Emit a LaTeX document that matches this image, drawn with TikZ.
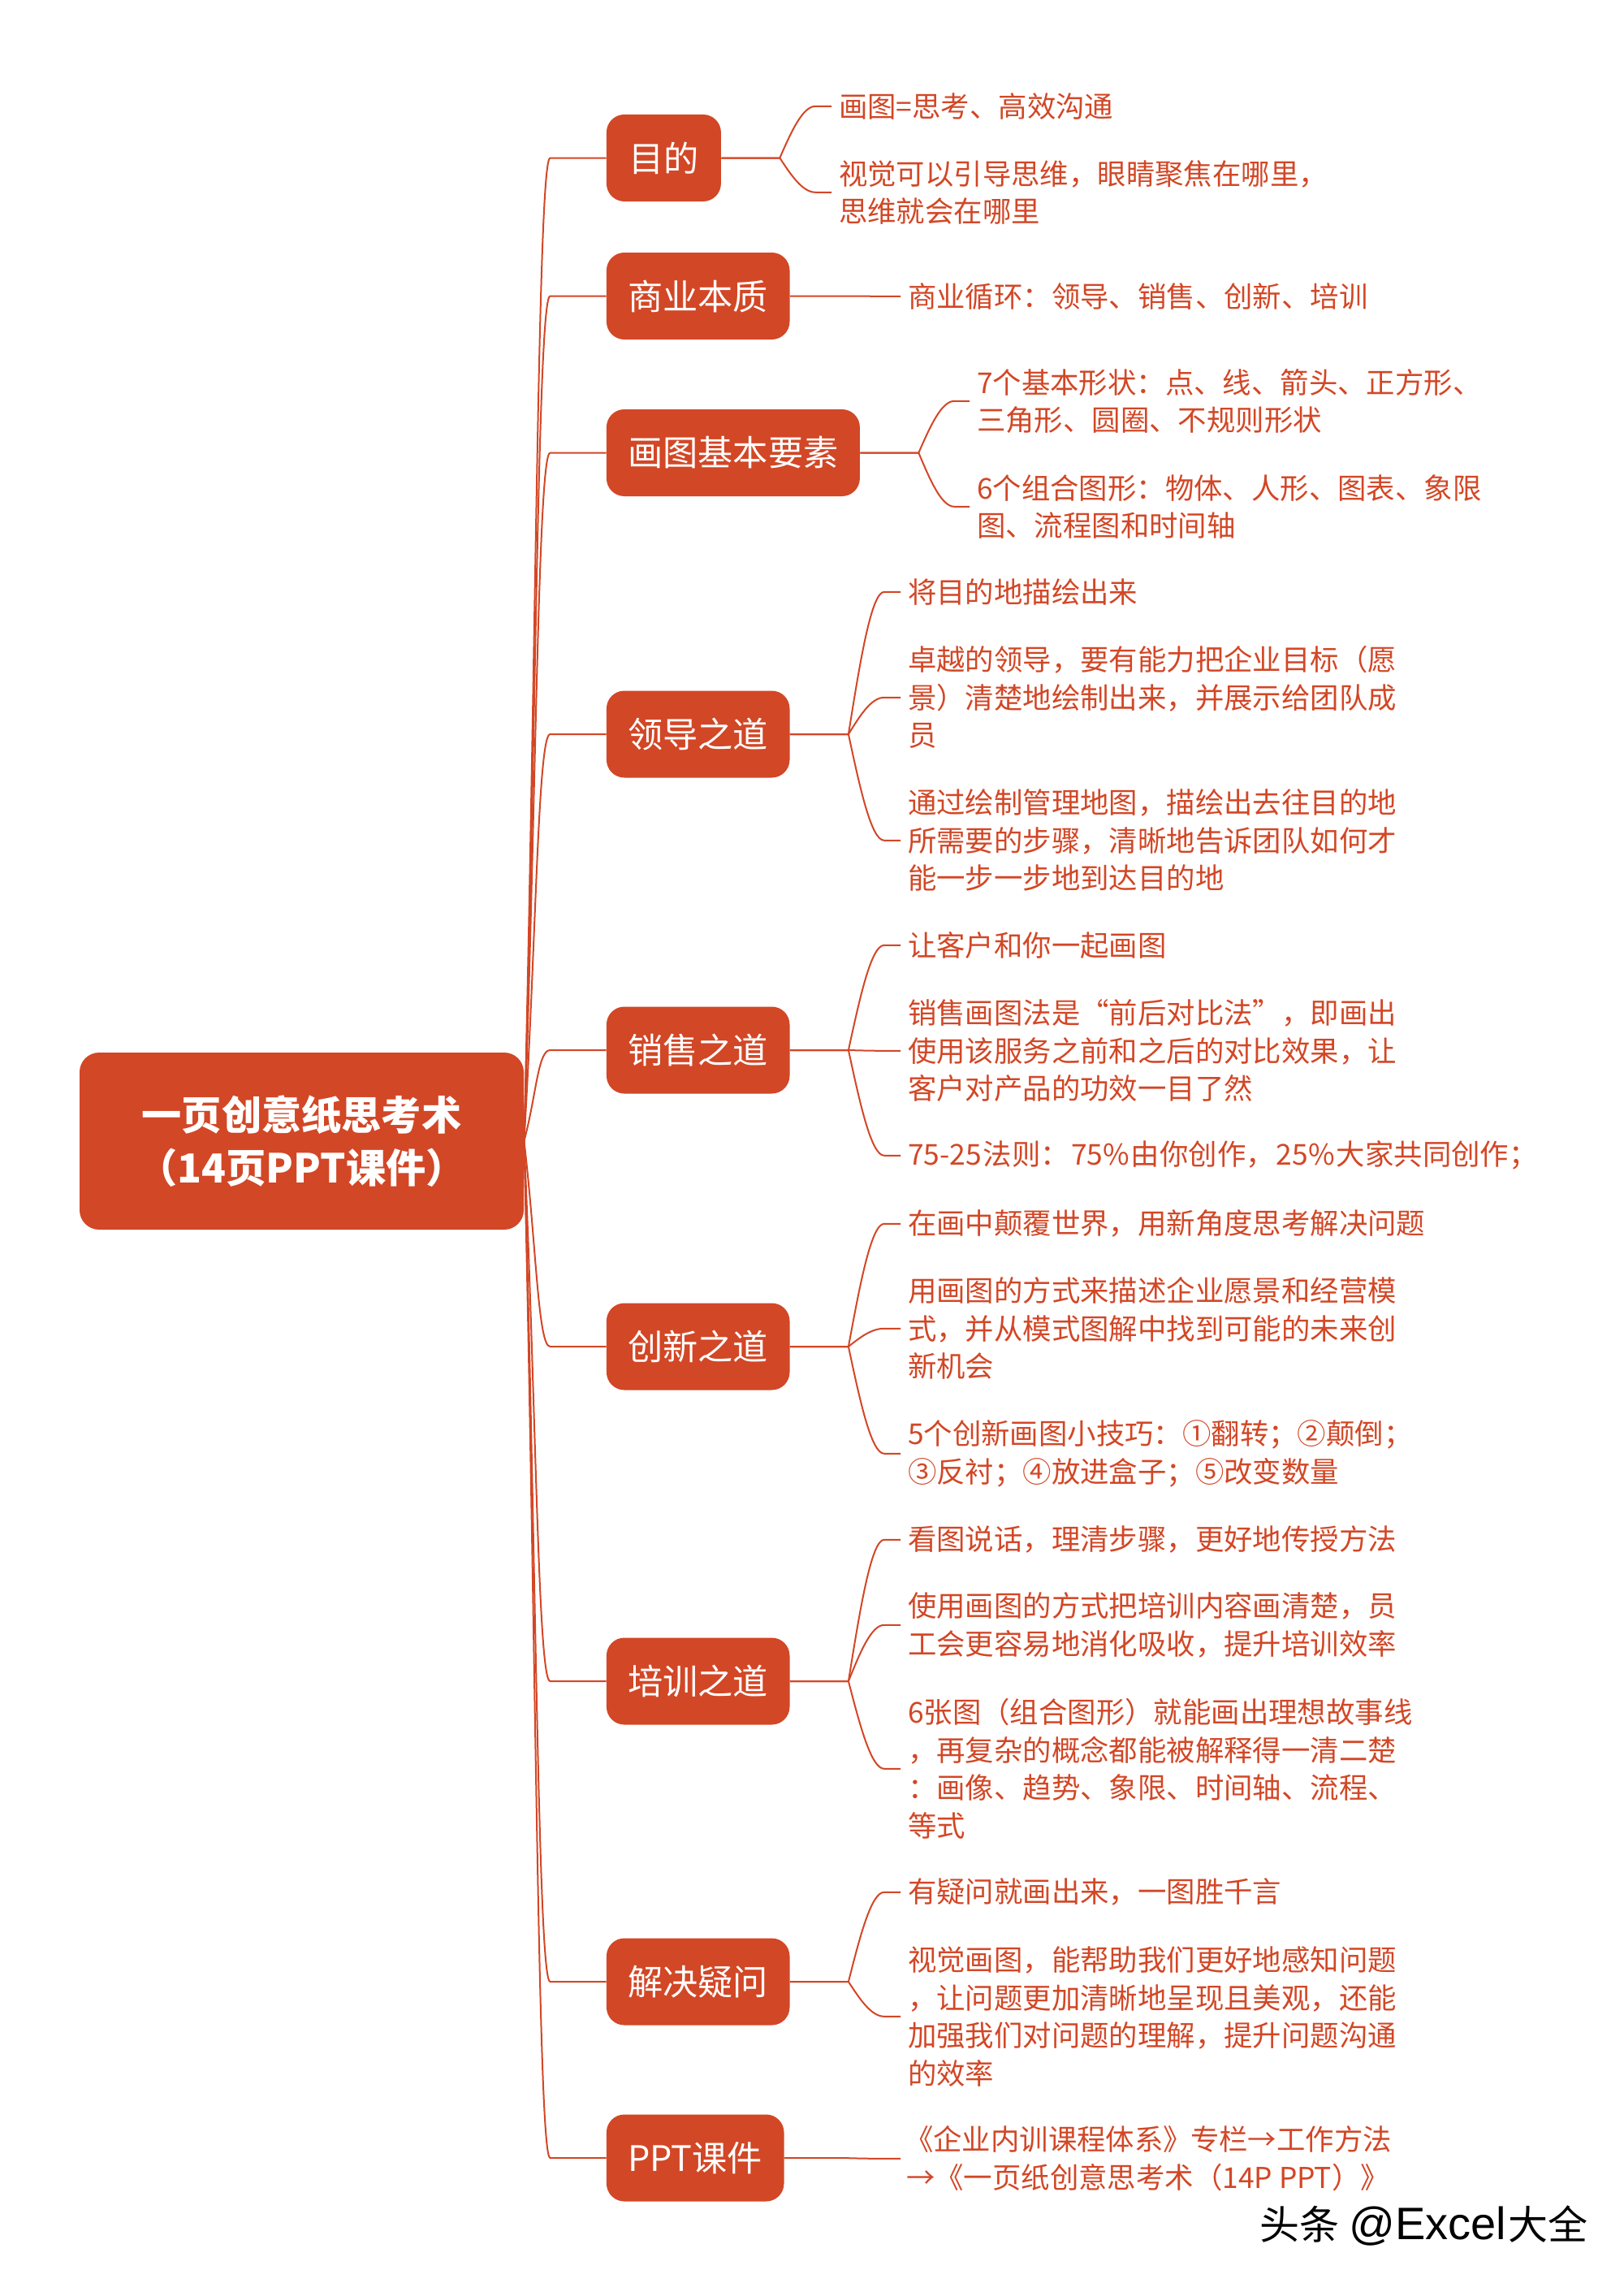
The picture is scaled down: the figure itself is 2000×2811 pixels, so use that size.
\documentclass[tikz,border=0pt]{standalone}
\usepackage{fontspec}
\setmainfont{Noto Sans CJK SC}
\newfontfamily\markfont{Liberation Sans}
\usetikzlibrary{calc}
\definecolor{mapred}{HTML}{D24726}
\tikzset{
  rootbox/.style={fill=mapred,text=white,rounded corners=12pt,minimum width=273.5pt,minimum height=109pt,align=center,font=\fontsize{24.6pt}{32.5pt}\selectfont\bfseries},
  topicbox/.style={fill=mapred,text=white,rounded corners=11pt,minimum height=53.5pt,anchor=west,inner xsep=13.2pt,inner ysep=0pt,font=\fontsize{21.6pt}{26pt}\selectfont},
  leaf/.style={text=mapred,anchor=west,align=left,inner xsep=4.3pt,inner ysep=0pt,yshift=-0.4pt,font=\fontsize{17.7pt}{23.25pt}\selectfont},
  mainlink/.style={mapred,line width=1pt,to path={let \p1=(\tikztostart),\p2=(\tikztotarget) in .. controls (\x1+7.5pt,0.5*\y1+0.5*\y2) and (\x2-42pt,\y2) .. (\x2-34.5pt,\y2) -- (\tikztotarget)}},
  leaflink/.style={mapred,line width=1pt,to path={let \p1=(\tikztostart),\p2=(\tikztotarget) in -- (\x1+36pt,\y1) .. controls (\x1+43pt,0.5*\y1+0.5*\y2) and (\x1+50pt,\y2) .. (\x1+58pt,\y2) -- (\tikztotarget)}}
}
\begin{document}
\begin{tikzpicture}[x=0.5pt,y=-0.5pt]
\useasboundingbox (0,0) rectangle (2000,2811);
\node[rootbox] (root) at (371.5,1405) {一页创意纸思考术\\（14页PPT课件）};
% topics
\node[topicbox,minimum width=70.5pt] (mudi) at (746.5,194.5) {目的};
\node[topicbox] (benzhi) at (746.5,364.5) {商业本质};
\node[topicbox] (yaosu) at (746.5,557.5) {画图基本要素};
\node[topicbox] (lingdao) at (746.5,904) {领导之道};
\node[topicbox] (xiaoshou) at (746.5,1293) {销售之道};
\node[topicbox] (chuangxin) at (746.5,1658) {创新之道};
\node[topicbox] (peixun) at (746.5,2070) {培训之道};
\node[topicbox] (yiwen) at (746.5,2440) {解决疑问};
\node[topicbox] (kejian) at (746.5,2657) {PPT课件};
% leaves
\node[leaf] (mudi1) at (1024,130) {画图=思考、高效沟通};
\node[leaf] (mudi2) at (1024,236) {视觉可以引导思维，眼睛聚焦在哪里，\\思维就会在哪里};
\node[leaf] (benzhi1) at (1109,364) {商业循环：领导、销售、创新、培训};
\node[leaf] (yaosu1) at (1194,493) {7个基本形状：点、线、箭头、正方形、\\三角形、圆圈、不规则形状};
\node[leaf] (yaosu2) at (1194,623) {6个组合图形：物体、人形、图表、象限\\图、流程图和时间轴};
\node[leaf] (lingdao1) at (1109,728) {将目的地描绘出来};
\node[leaf] (lingdao2) at (1109,858) {卓越的领导，要有能力把企业目标（愿\\景）清楚地绘制出来，并展示给团队成\\员};
\node[leaf] (lingdao3) at (1109,1034) {通过绘制管理地图，描绘出去往目的地\\所需要的步骤，清晰地告诉团队如何才\\能一步一步地到达目的地};
\node[leaf] (xiaoshou1) at (1109,1163) {让客户和你一起画图};
\node[leaf] (xiaoshou2) at (1109,1293) {销售画图法是“前后对比法”，即画出\\使用该服务之前和之后的对比效果，让\\客户对产品的功效一目了然};
\node[leaf] (xiaoshou3) at (1109,1422) {75-25\kern1pt法则：\kern1pt 75\%\kern1pt 由你创作，\kern1pt 25\%\kern1pt 大家共同创作；};
\node[leaf] (chuangxin1) at (1109,1506) {在画中颠覆世界，用新角度思考解决问题};
\node[leaf] (chuangxin2) at (1109,1635) {用画图的方式来描述企业愿景和经营模\\式，并从模式图解中找到可能的未来创\\新机会};
\node[leaf] (chuangxin3) at (1109,1789) {5个创新画图小技巧：①翻转；②颠倒；\\③反衬；④放进盒子；⑤改变数量};
\node[leaf] (peixun1) at (1109,1895) {看图说话，理清步骤，更好地传授方法};
\node[leaf] (peixun2) at (1109,2000) {使用画图的方式把培训内容画清楚，员\\工会更容易地消化吸收，提升培训效率};
\node[leaf] (peixun3) at (1109,2177) {6张图（组合图形）就能画出理想故事线\\，再复杂的概念都能被解释得一清二楚\\：画像、趋势、象限、时间轴、流程、\\等式};
\node[leaf] (yiwen1) at (1109,2329) {有疑问就画出来，一图胜千言};
\node[leaf] (yiwen2) at (1109,2482) {视觉画图，能帮助我们更好地感知问题\\，让问题更加清晰地呈现且美观，还能\\加强我们对问题的理解，提升问题沟通\\的效率};
\node[leaf] (kejian1) at (1109,2657) {\kern-2pt《企业内训课程体系》\kern-1pt 专栏→工作方法\\\kern-1pt→《一页纸创意思考术（14P PPT）》};
% connectors
\foreach \t in {mudi,benzhi,yaosu,lingdao,xiaoshou,chuangxin,peixun,yiwen,kejian}
  \draw[mainlink] (root.east) to (\t.west);
\foreach \a/\b in {mudi/mudi1,mudi/mudi2,benzhi/benzhi1,yaosu/yaosu1,yaosu/yaosu2,lingdao/lingdao1,lingdao/lingdao2,lingdao/lingdao3,xiaoshou/xiaoshou1,xiaoshou/xiaoshou2,xiaoshou/xiaoshou3,chuangxin/chuangxin1,chuangxin/chuangxin2,chuangxin/chuangxin3,peixun/peixun1,peixun/peixun2,peixun/peixun3,yiwen/yiwen1,yiwen/yiwen2,kejian/kejian1}
  \draw[leaflink] (\a.east) to (\b.west);
\node[anchor=west,inner sep=0pt,font=\fontsize{24.5pt}{28pt}\selectfont] (mark) at (1551,2740) {头条\kern6pt{\markfont\fontsize{28pt}{28pt}\selectfont @Excel}\kern1pt 大全};
\end{tikzpicture}
\end{document}
